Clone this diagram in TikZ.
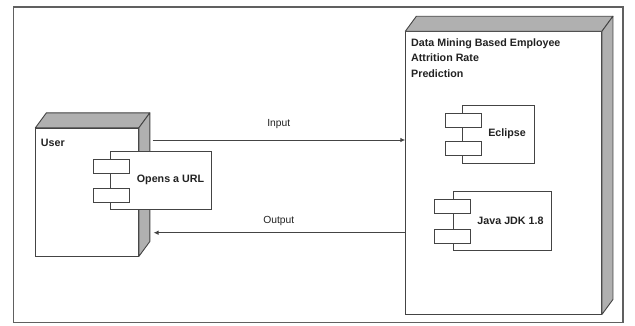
\documentclass[tikz,border=0pt]{standalone}
\usepackage{fontspec}
\setmainfont{Liberation Sans}
\usetikzlibrary{calc,arrows.meta}
\definecolor{ln}{HTML}{444444}
\definecolor{facegray}{HTML}{B0B0B0}
\definecolor{txt}{HTML}{222222}
\tikzset{
  frame/.style={draw=ln!85, line width=1.3pt},
  box3d/.style={draw=ln, fill=white, line width=0.9pt, rectangle, inner sep=0pt},
  face/.style={draw=ln, fill=facegray, line width=0.9pt, line join=round},
  comp/.style={draw=ln, fill=white, line width=0.8pt, rectangle, inner sep=0pt},
  port/.style={draw=ln, fill=white, line width=0.8pt, rectangle, inner sep=0pt, minimum width=36pt, minimum height=14pt},
  btxt/.style={font=\fontsize{10.7}{15.5}\selectfont\bfseries, text=txt, inner sep=0pt},
  ltxt/.style={font=\fontsize{10.3}{12}\selectfont, text=txt, inner sep=0pt},
  conn/.style={draw=ln, line width=1pt, -{Latex[length=5pt,width=4.5pt]}}
}
\newcommand\drawdepth[1]{%
  \draw[face] (#1.north west) -- ++(11,-15) -- ([shift={(11,-15)}]#1.north east) -- (#1.north east) -- cycle;
  \draw[face] (#1.north east) -- ++(11,-15) -- ([shift={(11,-15)}]#1.south east) -- (#1.south east) -- cycle;
}
\begin{document}
\begin{tikzpicture}[x=1pt,y=-1pt]
\useasboundingbox (0,0) rectangle (635,325);
\draw[frame] (13.5,7) rectangle (623,322.5);

% User node
\node[box3d, minimum width=102.6pt, minimum height=127.7pt] (user) at (87.1,192.15) {};
\drawdepth{user}
\node[btxt, anchor=base west] (usert) at (40.7,146.5) {User};

% Server node
\node[box3d, minimum width=195.7pt, minimum height=282.3pt] (srv) at (503.65,172.85) {};
\drawdepth{srv}
\node[btxt, anchor=north west, align=left] (srvt) at (411,38.5) {Data Mining Based Employee\\Attrition Rate\\Prediction};

% Component: Opens a URL
\node[comp, minimum width=101.6pt, minimum height=58.3pt] (url) at (160.8,180.2) {};
\node[port] (url1) at ($(url.north west)+(1.5,15.3)$) {};
\node[port] (url2) at ($(url.south west)+(1.5,-14.3)$) {};
\node[btxt] (urlt) at (170.5,180.2) {Opens a URL};

% Component: Eclipse
\node[comp, minimum width=71.2pt, minimum height=58.3pt] (ecl) at (498.4,134.2) {};
\node[port] (ecl1) at ($(ecl.north west)+(1.2,15.3)$) {};
\node[port] (ecl2) at ($(ecl.south west)+(1.2,-14.9)$) {};
\node[btxt] (eclt) at (507,134.2) {Eclipse};

% Component: Java JDK
\node[comp, minimum width=98.5pt, minimum height=59pt] (jdk) at (502.25,220.5) {};
\node[port] (jdk1) at ($(jdk.north west)+(-0.2,15.3)$) {};
\node[port] (jdk2) at ($(jdk.south west)+(-0.2,-14)$) {};
\node[btxt] (jdkt) at (510.5,220.5) {Java JDK 1.8};

% Connectors
\coordinate (inStart) at (152.5,140);
\coordinate (outEnd) at (153.5,232.7);
\draw[conn] (inStart) -- (inStart -| srv.west);
\draw[conn] (outEnd -| srv.west) -- (outEnd);
\node[ltxt, anchor=base] (inl) at (278.8,126.5) {Input};
\node[ltxt, anchor=base] (outl) at (278.8,223.8) {Output};
\end{tikzpicture}
\end{document}
